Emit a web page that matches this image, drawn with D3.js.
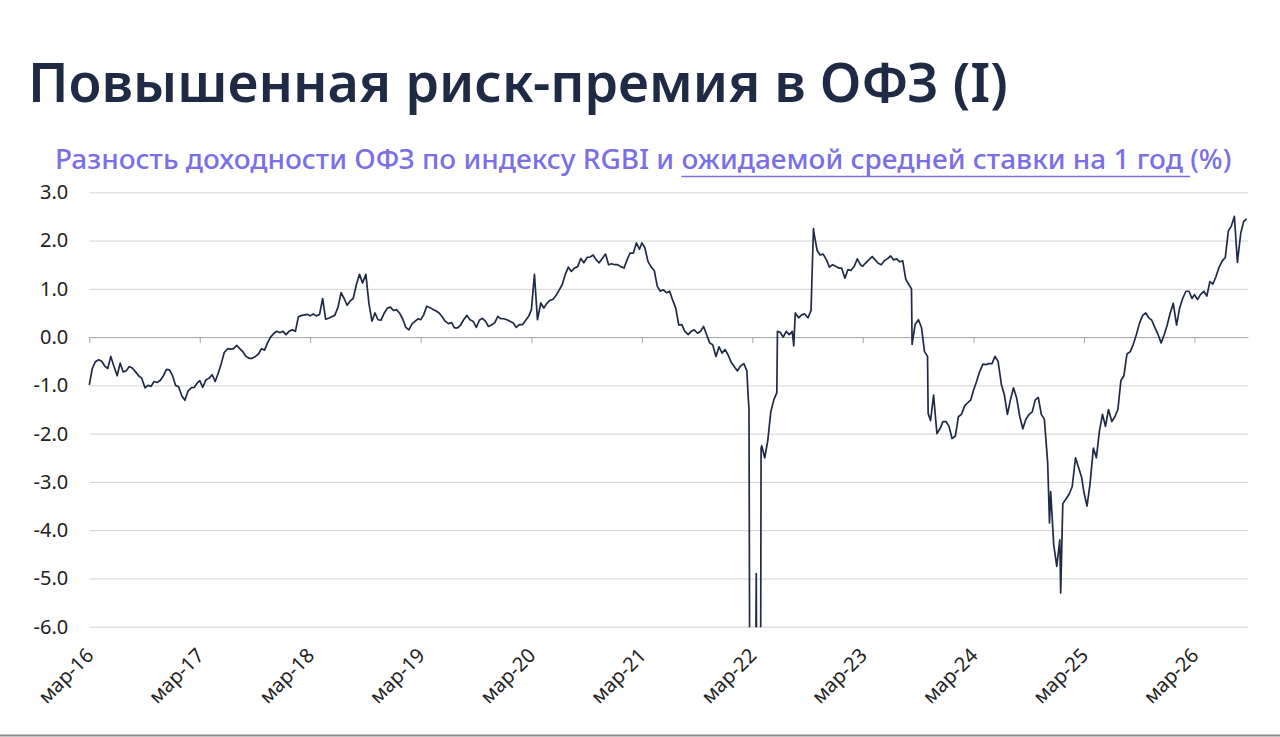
<!DOCTYPE html>
<html>
<head>
<meta charset="utf-8">
<script src="https://cdn.jsdelivr.net/npm/d3@7"></script>
<style>
  body { margin: 0; background: #fff; }
  svg { display: block; font-family: "Noto Sans", sans-serif; }
</style>
</head>
<body>
<script>
// спред ОФЗ (RGBI) к ожидаемой ставке: точки на 1, 11 и 21 число, год с марта по февраль
var y16 = [-0.99, -0.65, -0.51, -0.47, -0.5, -0.6, -0.65, -0.4, -0.6, -0.8, -0.54, -0.72, -0.7, -0.61, -0.64, -0.72, -0.8, -0.85, -1.05, -1.0, -1.02, -0.92, -0.94, -0.9, -0.8, -0.67, -0.68, -0.8, -1.0, -1.03, -1.22, -1.31, -1.12, -1.05, -1.04, -0.95];
var y17 = [-0.9, -1.04, -0.89, -0.85, -0.78, -0.92, -0.75, -0.55, -0.32, -0.24, -0.25, -0.24, -0.17, -0.24, -0.3, -0.4, -0.44, -0.44, -0.4, -0.35, -0.24, -0.27, -0.12, 0.0, 0.08, 0.12, 0.09, 0.12, 0.05, 0.12, 0.15, 0.12, 0.42, 0.45, 0.46, 0.47];
var y18 = [0.44, 0.48, 0.44, 0.47, 0.8, 0.37, 0.39, 0.42, 0.45, 0.62, 0.92, 0.8, 0.66, 0.75, 0.8, 1.1, 1.3, 1.12, 1.3, 0.7, 0.33, 0.5, 0.36, 0.35, 0.5, 0.6, 0.62, 0.55, 0.57, 0.5, 0.37, 0.2, 0.15, 0.28, 0.33, 0.38];
var y19 = [0.36, 0.46, 0.64, 0.61, 0.57, 0.54, 0.5, 0.42, 0.33, 0.28, 0.3, 0.19, 0.19, 0.25, 0.36, 0.45, 0.36, 0.33, 0.2, 0.35, 0.39, 0.33, 0.22, 0.25, 0.3, 0.43, 0.38, 0.38, 0.36, 0.33, 0.29, 0.2, 0.26, 0.26, 0.35, 0.43];
var y20 = [0.57, 1.3, 0.36, 0.71, 0.6, 0.7, 0.76, 0.78, 0.86, 0.98, 1.09, 1.3, 1.45, 1.36, 1.43, 1.46, 1.63, 1.54, 1.65, 1.66, 1.7, 1.6, 1.54, 1.63, 1.72, 1.5, 1.52, 1.5, 1.5, 1.46, 1.43, 1.6, 1.74, 1.74, 1.95, 1.82];
var y21 = [1.95, 1.85, 1.57, 1.45, 1.38, 1.05, 0.95, 0.98, 0.92, 0.95, 0.76, 0.6, 0.25, 0.26, 0.12, 0.05, 0.12, 0.15, 0.08, 0.12, 0.22, 0.05, -0.12, -0.16, -0.4, -0.2, -0.33, -0.26, -0.37, -0.52, -0.62, -0.7, -0.6, -0.55, -0.7, -8.5];
var y22 = [-8.5, -8.3, -8.0, -2.25, -2.5, -2.15, -1.55, -1.3, -1.15, 0.1, 0.0, 0.12, 0.05, 0.12, 0.5, 0.4, 0.46, 0.48, 0.4, 0.55, 2.15, 1.8, 1.7, 1.72, 1.6, 1.45, 1.5, 1.47, 1.43, 1.43, 1.22, 1.4, 1.38, 1.47, 1.62, 1.5];
var y23 = [1.47, 1.54, 1.6, 1.67, 1.6, 1.53, 1.5, 1.58, 1.62, 1.68, 1.6, 1.62, 1.56, 1.58, 1.2, 1.08, -0.15, 0.26, 0.36, 0.2, -0.3, -0.4, -1.73, -1.2, -2.0, -1.9, -1.75, -1.75, -1.85, -2.1, -2.05, -1.65, -1.6, -1.42, -1.36, -1.3];
var y24 = [-1.1, -0.92, -0.72, -0.56, -0.57, -0.55, -0.55, -0.4, -0.5, -0.98, -1.2, -1.6, -1.3, -1.05, -1.25, -1.65, -1.9, -1.7, -1.6, -1.55, -1.3, -1.25, -1.6, -1.7, -2.6, -3.2, -4.3, -4.75, -4.2, -3.45, -3.35, -3.25, -3.1, -2.5, -2.7, -2.9];
var y25 = [-3.22, -3.5, -3.04, -2.3, -2.5, -1.95, -1.6, -1.85, -1.5, -1.75, -1.65, -1.5, -0.9, -0.8, -0.35, -0.3, -0.15, 0.05, 0.3, 0.45, 0.5, 0.4, 0.35, 0.2, 0.05, -0.12, 0.05, 0.25, 0.5, 0.7, 0.25, 0.6, 0.8, 0.95, 0.95, 0.8];
var y26 = [0.88, 0.78, 0.88, 0.95, 0.85, 1.15, 1.1, 1.25, 1.44, 1.58, 1.65, 2.2, 2.3, 2.5, 1.55, 2.15, 2.4, 2.45];
var startYears = [2016, 2017, 2018, 2019, 2020, 2021, 2022, 2023, 2024, 2025, 2026];
var series = [y16, y17, y18, y19, y20, y21, y22, y23, y24, y25, y26];

// резкие скачки между узлами
var spikes = [
  ["2022-02-15", -1.2], ["2022-02-18", -1.5], ["2022-03-14", -4.9], ["2022-03-16", -8.0],
  ["2022-03-28", -8.0], ["2022-03-30", -2.3], ["2022-05-23", 0.12], ["2022-07-16", -0.18],
  ["2022-09-14", 1.2], ["2022-09-19", 2.25], ["2023-08-09", 1.0], ["2023-10-03", -1.58],
  ["2024-11-07", -3.85], ["2024-12-14", -5.3]
];

var tickLabels = ["мар-16", "мар-17", "мар-18", "мар-19", "мар-20", "мар-21", "мар-22", "мар-23", "мар-24", "мар-25", "мар-26"];
var yTicks = [3, 2, 1, 0, -1, -2, -3, -4, -5, -6];

var title = "Повышенная риск-премия в ОФЗ (I)";
var subPlain = "Разность доходности ОФЗ по индексу RGBI и ";
var subUnder = "ожидаемой средней ставки на 1 год ";
var subEnd = "(%)";

var parseDate = d3.timeParse("%Y-%m-%d");

var data = [];
series.forEach(function(vals, i){
  vals.forEach(function(v, j){
    data.push({day: new Date(startYears[i], 2 + Math.floor(j / 3), 1 + 10 * (j % 3)), amount: v});
  });
});
spikes.forEach(function(s){ data.push({day: parseDate(s[0]), amount: s[1]}); });
data.sort(function(a, b){ return a.day - b.day; });

var width = 1280, height = 737;
var svg = d3.select("body").append("svg").attr("width", width).attr("height", height);

var x = d3.scaleTime()
          .domain([new Date(2016, 2, 1), new Date(2026, 7, 25)])
          .range([89.3, 1248]);
var y = d3.scaleLinear()
          .domain([-6, 3])
          .range([626.7, 192.3]);

// заголовок
var t = svg.append("text")
   .attr("x", 28).attr("y", 102)
   .attr("fill", "#1f2a44")
   .attr("font-size", 56).attr("font-weight", 600)
   .text(title);
t.attr("font-size", 56 * 980 / t.node().getComputedTextLength());

// подзаголовок, часть подчёркнута
var sub = svg.append("text")
   .attr("x", 55).attr("y", 169)
   .attr("fill", "#7a6fe6")
   .attr("font-size", 23).attr("font-weight", 500);
sub.append("tspan").text(subPlain);
sub.append("tspan").text(subUnder);
sub.append("tspan").text(subEnd);
sub.attr("font-size", 23 * 1177 / sub.node().getComputedTextLength());
var n0 = subPlain.length, n1 = n0 + subUnder.length - 1;
var ux0 = sub.node().getStartPositionOfChar(n0).x;
var ux1 = sub.node().getEndPositionOfChar(n1).x;
svg.append("line")
   .attr("x1", ux0).attr("x2", ux1).attr("y1", 176.5).attr("y2", 176.5)
   .attr("stroke", "#7a6fe6").attr("stroke-width", 1.5);

// сетка и подписи оси Y
var yAxis = d3.axisLeft(y)
              .tickValues(yTicks)
              .tickSize(-(1248 - 89.3))
              .tickPadding(21)
              .tickFormat(function(d){ return d.toFixed(1); });
var gy = svg.append("g").attr("transform", "translate(89.3,0)").call(yAxis);
gy.select(".domain").remove();
gy.selectAll("line").attr("stroke", "#d3d3d3");
gy.selectAll("text").attr("fill", "#222").attr("font-size", 20).style("font-family", "\"Noto Sans\", sans-serif");

// ось на нуле с засечками
var tickDates = startYears.map(function(yr){ return new Date(yr, 2, 1); });
var xAxis = d3.axisBottom(x).tickValues(tickDates).tickSize(6).tickSizeOuter(0).tickFormat("");
var gx = svg.append("g").attr("transform", "translate(0," + y(0) + ")").call(xAxis);
gx.selectAll(".domain, line").attr("stroke", "#a6a6a6");

// подписи дат снизу
var xLabels = d3.axisBottom(x).tickValues(tickDates).tickSize(0)
                .tickFormat(function(d, i){ return tickLabels[i]; });
var gl = svg.append("g").attr("transform", "translate(0," + y(-6) + ")").call(xLabels);
gl.select(".domain").remove();
gl.selectAll("text")
  .attr("fill", "#222").attr("font-size", 20)
  .style("font-family", "\"Noto Sans\", sans-serif")
  .attr("y", null).attr("dy", null)
  .attr("text-anchor", "end")
  .attr("transform", "translate(5,30) rotate(-45)");

// линия, обрезанная по -6
svg.append("clipPath").attr("id", "plot")
   .append("rect").attr("x", 85).attr("y", 185).attr("width", 1170).attr("height", y(-6) - 185 + 0.5);

var line = d3.line()
             .x(function(d){ return x(d.day); })
             .y(function(d){ return y(d.amount); });

svg.append("path")
   .attr("clip-path", "url(#plot)")
   .attr("d", line(data))
   .attr("fill", "none")
   .attr("stroke", "#1f2a44")
   .attr("stroke-width", 1.7)
   .attr("stroke-linejoin", "round");

// нижняя граница слайда
svg.append("line")
   .attr("x1", 0).attr("x2", width).attr("y1", 735.5).attr("y2", 735.5)
   .attr("stroke", "#8c8c8c").attr("stroke-width", 2);
</script>
</body>
</html>
